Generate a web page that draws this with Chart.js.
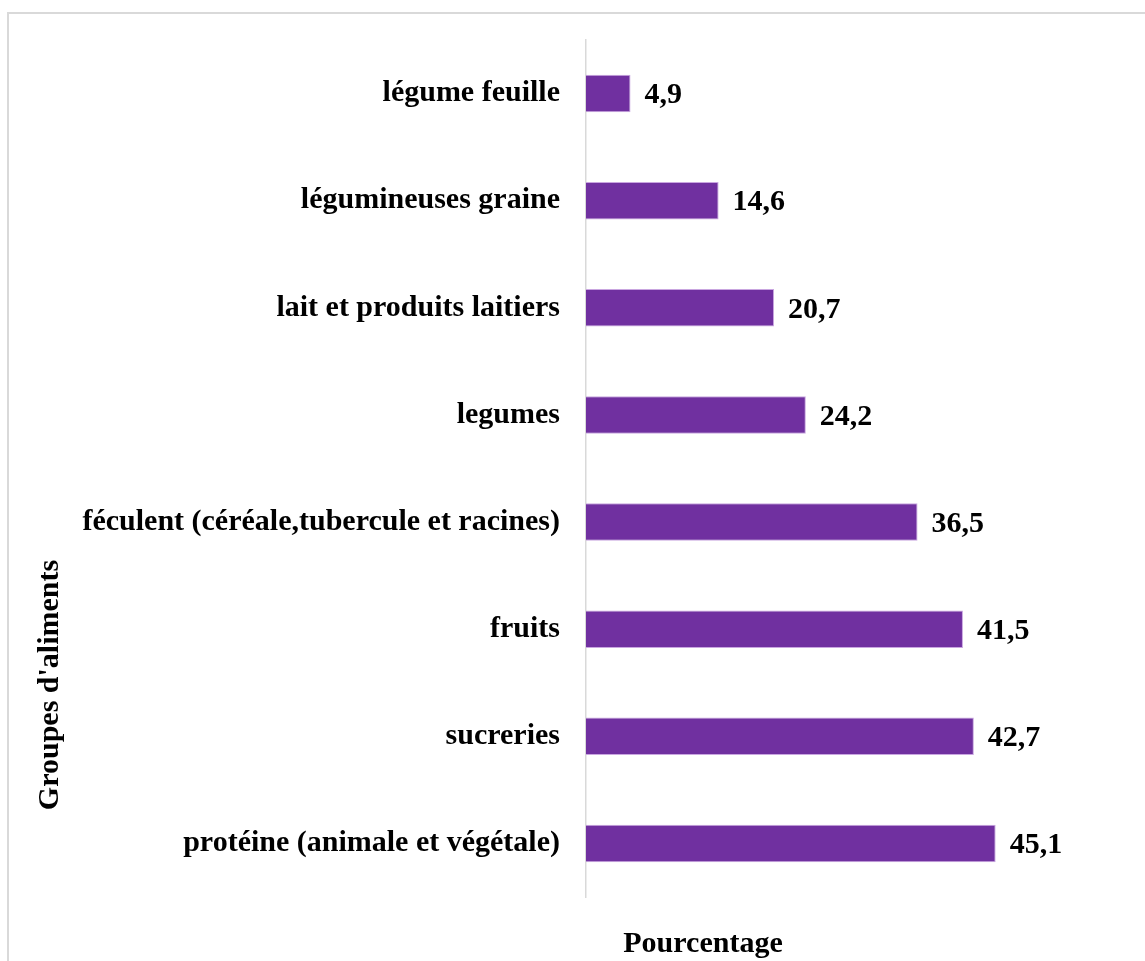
<!DOCTYPE html>
<html>
<head>
<meta charset="utf-8">
<script src="https://cdn.jsdelivr.net/npm/chart.js@4/dist/chart.umd.min.js"></script>
<style>
  html, body { margin: 0; padding: 0; background: #fff; }
  #wrap { width: 1145px; height: 961px; position: relative; }
</style>
</head>
<body>
<div id="wrap"><canvas id="chart"></canvas></div>
<script>
// food groups, top to bottom
const groupes = [
    'légume feuille',
    'légumineuses graine',
    'lait et produits laitiers',
    'legumes',
    'féculent (céréale,tubercule et racines)',
    'fruits',
    'sucreries',
    'protéine (animale et végétale)'
];
const pourcentages = [4.9, 14.6, 20.7, 24.2, 36.5, 41.5, 42.7, 45.1];

const FONT = '"Liberation Serif", "Times New Roman", serif';

// frame, axis titles and value labels
const decorations = {
    id: 'decorations',
    beforeDraw(chart) {
        const ctx = chart.ctx;
        ctx.save();
        ctx.strokeStyle = '#d9d9d9';
        ctx.lineWidth = 2;
        ctx.strokeRect(8, 13, 1200, 1000);
        ctx.restore();
    },
    afterDatasetsDraw(chart) {
        const ctx = chart.ctx;
        ctx.save();
        ctx.fillStyle = '#000';
        ctx.font = 'bold 30px ' + FONT;
        ctx.textAlign = 'left';
        ctx.textBaseline = 'middle';
        chart.getDatasetMeta(0).data.forEach((bar, i) => {
            ctx.fillText(pourcentages[i].toFixed(1).replace('.', ','), bar.x + 14, bar.y + 2);
        });

        ctx.textAlign = 'center';
        ctx.fillText('Pourcentage', 703, 944);

        ctx.translate(50, 685);
        ctx.rotate(-Math.PI / 2);
        ctx.fillText("Groupes d'aliments", 0, 0);
        ctx.restore();
    }
};

new Chart(document.getElementById('chart'), {
    type: 'bar',
    data: {
        labels: groupes,
        datasets: [{
            data: pourcentages,
            backgroundColor: '#7030a0',
            borderColor: '#c9a6e0',
            borderWidth: 1,
            barPercentage: 0.7,
            categoryPercentage: 0.5
        }]
    },
    options: {
        indexAxis: 'y',
        responsive: true,
        maintainAspectRatio: false,
        animation: false,
        layout: { padding: { top: 40, right: 14, bottom: 64, left: 0 } },
        plugins: {
            legend: { display: false },
            tooltip: { enabled: false }
        },
        scales: {
            x: {
                min: 0,
                max: 60,
                display: false
            },
            y: {
                afterFit(scale) {
                    scale.width = 586;
                    scale.paddingTop = 0;
                    scale.paddingBottom = 0;
                },
                grid: { display: false, drawTicks: false },
                border: { color: '#d9d9d9', width: 1.5 },
                ticks: {
                    color: '#000',
                    padding: 26,
                    font: { family: FONT, size: 30, weight: 'bold' }
                }
            }
        }
    },
    plugins: [decorations]
});
</script>
</body>
</html>
